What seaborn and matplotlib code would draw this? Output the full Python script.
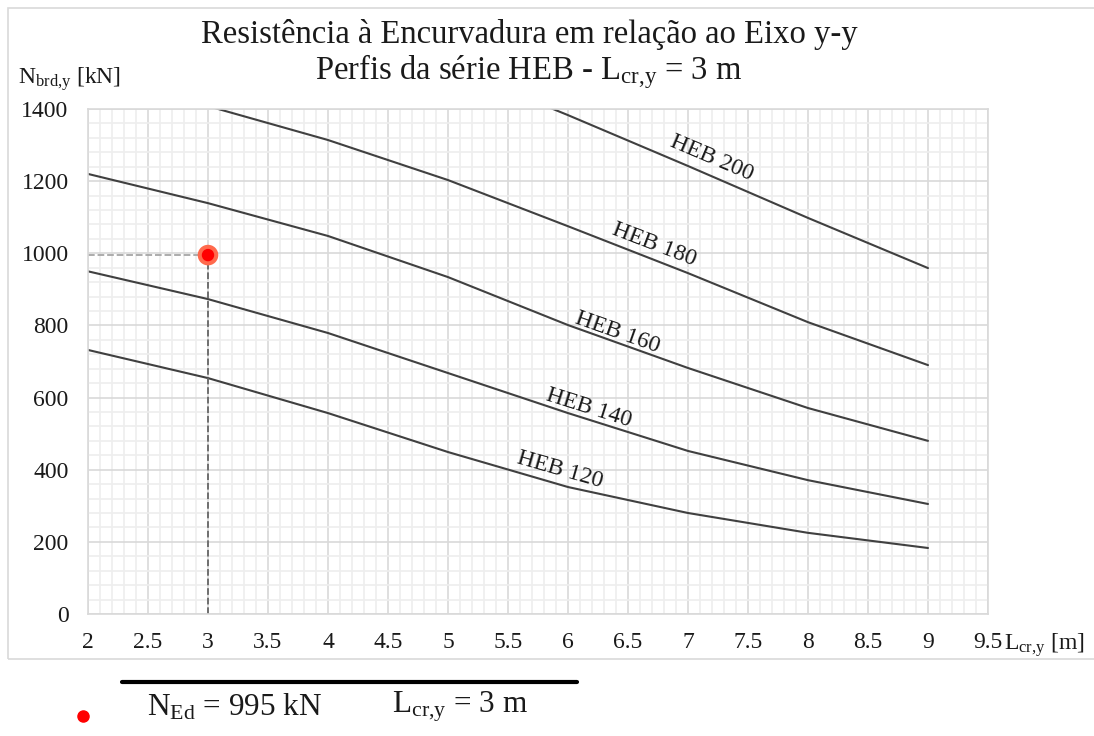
import matplotlib
matplotlib.use("Agg")
import matplotlib.pyplot as plt
import seaborn as sns
import pandas as pd
from matplotlib.lines import Line2D
from matplotlib.patches import Rectangle
from matplotlib.ticker import MultipleLocator

# --- data
lengths = [2, 3, 4, 5, 6, 7, 8, 9]
heb_120 = [732, 654, 557, 449, 352, 280, 225, 183]
heb_140 = [950, 873, 779, 668, 557, 452, 371, 305]
heb_160 = [1220, 1139, 1048, 934, 801, 682, 571, 480]
heb_180 = [1490, 1408, 1314, 1203, 1075, 945, 809, 690]
heb_200 = [1830, 1740, 1640, 1519, 1383, 1242, 1098, 959]
profiles = ["HEB 120", "HEB 140", "HEB 160", "HEB 180", "HEB 200"]

# label positions (x, y, angle) along each curve
label_x = [5.93, 6.17, 6.41, 6.72, 7.2]
label_y = [400, 572, 780, 1024, 1265]
label_rot = [-16, -17.5, -19.5, -21, -23]

n_ed = 995
l_cr = 3

df = pd.DataFrame({
    "L": lengths * 5,
    "N": heb_120 + heb_140 + heb_160 + heb_180 + heb_200,
    "perfil": sum([[p] * len(lengths) for p in profiles], []),
})

sns.set_theme(style="white")
plt.rcParams["font.family"] = ["Liberation Serif", "DejaVu Serif"]
plt.rcParams["mathtext.fontset"] = "custom"
plt.rcParams["mathtext.rm"] = "Liberation Serif"
plt.rcParams["mathtext.it"] = "Liberation Serif"

fig = plt.figure(figsize=(10.94, 7.36), dpi=100)
ax = fig.add_axes([88 / 1094, 1 - 614 / 736, 900 / 1094, 505 / 736])

# chart frame
fig.add_artist(Rectangle((8 / 1094, 1 - 659 / 736), 1.1, 651 / 736, transform=fig.transFigure,
                         fill=False, edgecolor="#d9d9d9", linewidth=1.2))

sns.lineplot(data=df, x="L", y="N", hue="perfil", palette=["#404040"] * 5,
             linewidth=1.5, legend=False, ax=ax, clip_on=True)

# design point
ax.plot([2, l_cr], [n_ed, n_ed], color="#a6a6a6", linestyle="--", linewidth=1.3)
ax.plot([l_cr, l_cr], [0, n_ed], color="#666666", linestyle="--", linewidth=1.3)
sns.scatterplot(x=[l_cr], y=[n_ed], s=220, color="#ff6a4d", edgecolor="none", ax=ax, zorder=5)
sns.scatterplot(x=[l_cr], y=[n_ed], s=80, color="#ff0000", edgecolor="none", ax=ax, zorder=6)

for name, lx, ly, rot in zip(profiles, label_x, label_y, label_rot):
    ax.text(lx, ly, name, rotation=rot, rotation_mode="anchor", ha="center", va="center",
            fontsize=17, color="#1a1a1a")

ax.set_xlim(2, 9.5)
ax.set_ylim(0, 1400)
ax.xaxis.set_minor_locator(MultipleLocator(0.1))
ax.yaxis.set_major_locator(MultipleLocator(200))
ax.yaxis.set_minor_locator(MultipleLocator(40))
ax.set_xticks([2, 2.5, 3, 3.5, 4, 4.5, 5, 5.5, 6, 6.5, 7, 7.5, 8, 8.5, 9, 9.5])
ax.set_xticklabels(["2", "2.5", "3", "3.5", "4", "4.5", "5", "5.5", "6", "6.5", "7",
                    "7.5", "8", "8.5", "9", "9.5"])
ax.grid(which="major", color="#d9d9d9", linewidth=1.2)
ax.grid(which="minor", color="#eeeeee", linewidth=1.2)
ax.set_axisbelow(True)
for s in ax.spines.values():
    s.set_color("#d9d9d9")
    s.set_linewidth(1.2)
ax.tick_params(axis="both", which="both", length=0, labelsize=17, colors="#1a1a1a")
ax.tick_params(axis="x", pad=13)
ax.tick_params(axis="y", pad=14)
ax.set_xlabel("")
ax.set_ylabel("")

# titles and axis names
fig.text(529 / 1094, 1 - 35 / 736, "Resistência à Encurvadura em relação ao Eixo y-y",
         ha="center", va="center", fontsize=23.5, color="#1a1a1a")
fig.text(529 / 1094, 1 - 72 / 736, r"Perfis da série HEB - L$_{\mathrm{cr{,}y}}$ = 3 m",
         ha="center", va="center", fontsize=23.5, color="#1a1a1a")
fig.text(18 / 1094, 1 - 79 / 736, r"N$_{\mathrm{brd{,}y}}$ [kN]", ha="left", va="center",
         fontsize=17, color="#1a1a1a")
fig.text(1004 / 1094, 1 - 645 / 736, r"L$_{\mathrm{cr{,}y}}$ [m]", ha="left", va="center",
         fontsize=17, color="#1a1a1a")

# legend-like note under the chart
fig.add_artist(Line2D([122 / 1094, 577 / 1094], [1 - 682 / 736, 1 - 682 / 736],
                      transform=fig.transFigure, color="black", linewidth=3))
fig.add_artist(Line2D([83 / 1094], [1 - 716 / 736], transform=fig.transFigure,
                      marker="o", markersize=8, color="#ff0000", linestyle="none"))
fig.text(147 / 1094, 1 - 707 / 736, r"N$_{\mathrm{Ed}}$ = %d kN" % n_ed, ha="left", va="center",
         fontsize=22.5, color="#1a1a1a")
fig.text(392 / 1094, 1 - 707 / 736, r"L$_{\mathrm{cr{,}y}}$ = %d m" % l_cr, ha="left", va="center",
         fontsize=22.5, color="#1a1a1a")

fig.savefig("out.png", dpi=100)
